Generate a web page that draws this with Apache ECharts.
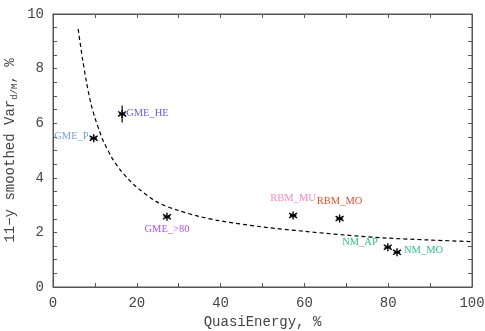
<!DOCTYPE html>
<html>
<head>
<meta charset="utf-8">
<script src="https://cdn.jsdelivr.net/npm/echarts@6/dist/echarts.min.js"></script>
<style>
  html, body { margin: 0; padding: 0; background: #fff; }
  #chart { width: 485px; height: 331px; }
</style>
</head>
<body>
<div id="chart"></div>
<script>
// points
const pointNames = ['GME_P', 'GME_HE', 'GME_>80', 'RBM_MU', 'RBM_MO', 'NM_AP', 'NM_MO'];
const pointX = [9.7, 16.5, 27.2, 57.3, 68.4, 79.9, 82.1];
const pointY = [5.45, 6.34, 2.57, 2.62, 2.51, 1.46, 1.27];
const pointErr = [0.12, 0.31, 0, 0, 0, 0, 0];

// dashed fit curve
const curveX = [6, 7, 8, 9, 10, 11, 12, 14, 16, 18, 20, 25, 30, 35, 40, 50, 60, 70, 80, 90, 100];
const curveY = [9.45, 8.4, 7.5, 6.75, 6.2, 5.75, 5.35, 4.75, 4.3, 3.95, 3.65, 3.1, 2.8, 2.58, 2.42, 2.2, 2.04, 1.9, 1.79, 1.72, 1.66];

const xTicks = [0, 20, 40, 60, 80, 100];
const yTicks = [0, 2, 4, 6, 8, 10];

// label colours and placement
const labelStyle = {
  'GME_P':   { color: '#6f9fd8', align: 'right',  dx: -5,  dy: -2 },
  'GME_HE':  { color: '#6a5ae6', align: 'left',   dx: 4,   dy: -1 },
  'GME_>80': { color: '#b050f0', align: 'center', dx: 0,   dy: 12 },
  'RBM_MU':  { color: '#ff86c8', align: 'center', dx: 0,   dy: -17 },
  'RBM_MO':  { color: '#f04a2a', align: 'center', dx: 0,   dy: -17 },
  'NM_AP':   { color: '#2cbf8c', align: 'right',  dx: -10, dy: -5 },
  'NM_MO':   { color: '#2cbf8c', align: 'left',   dx: 7,   dy: -2 }
};

const axisFont = 'Liberation Mono, DejaVu Sans Mono, monospace';
const labelFont = 'Liberation Serif, DejaVu Serif, serif';

const chart = echarts.init(document.getElementById('chart'));

const points = pointNames.map((n, i) => [pointX[i], pointY[i], pointErr[i], i]);

// ticks at minor spacing, labels only on the major values
function axisCommon(ticks) {
  return {
    min: 0,
    axisLine: { show: true, onZero: false, lineStyle: { color: '#555', width: 1 } },
    axisTick: { show: true, inside: true, length: 4, lineStyle: { color: '#555' } },
    splitLine: { show: false },
    axisLabel: {
      show: !!ticks, color: '#444', fontFamily: axisFont, fontSize: 14, margin: 9,
      formatter: v => (ticks && ticks.indexOf(v) >= 0) ? String(v) : ''
    }
  };
}

function renderPoint(params, api) {
  const x = api.value(0), y = api.value(1), err = api.value(2);
  const c = api.coord([x, y]);
  const r = 4;
  const st = { stroke: '#000', lineWidth: 1.4 };
  const children = [
    { type: 'line', shape: { x1: c[0], y1: c[1] - r, x2: c[0], y2: c[1] + r }, style: st },
    { type: 'line', shape: { x1: c[0] - r, y1: c[1] - r * 0.6, x2: c[0] + r, y2: c[1] + r * 0.6 }, style: st },
    { type: 'line', shape: { x1: c[0] - r, y1: c[1] + r * 0.6, x2: c[0] + r, y2: c[1] - r * 0.6 }, style: st },
    { type: 'line', shape: { x1: c[0] - r * 0.8, y1: c[1], x2: c[0] + r * 0.8, y2: c[1] }, style: st }
  ];
  if (err > 0) {
    const lo = api.coord([x, y - err]);
    const hi = api.coord([x, y + err]);
    children.push({ type: 'line', shape: { x1: lo[0], y1: lo[1], x2: hi[0], y2: hi[1] }, style: { stroke: '#000', lineWidth: 1.2 } });
  }
  const name = pointNames[api.value(3)];
  const ls = labelStyle[name];
  children.push({
    type: 'text',
    x: c[0] + ls.dx,
    y: c[1] + ls.dy,
    style: {
      text: name, fill: ls.color, font: '10.5px ' + labelFont,
      align: ls.align, verticalAlign: 'middle'
    }
  });
  return { type: 'group', children: children };
}

const option = {
  animation: false,
  backgroundColor: '#fff',
  grid: {
    left: 53, right: 13, top: 14, bottom: 44, outerBoundsMode: 'none',
    show: true, borderColor: '#555', borderWidth: 1
  },
  xAxis: [
    Object.assign(axisCommon(xTicks), {
      type: 'value', max: 100, interval: 10, position: 'bottom',
      name: 'QuasiEnergy, %', nameLocation: 'middle', nameGap: 27,
      nameTextStyle: { color: '#444', fontFamily: axisFont, fontSize: 14 }
    }),
    Object.assign(axisCommon(null), {
      type: 'value', max: 100, interval: 10, position: 'top'
    })
  ],
  yAxis: [
    Object.assign(axisCommon(yTicks), {
      type: 'value', max: 10, interval: 0.5, position: 'left',
      name: '{a|11\u2212y smoothed Var}{s|d/M}{a|, %}',
      nameLocation: 'middle', nameGap: 34, nameRotate: 90,
      nameMoveOverlap: false,
      nameTextStyle: {
        rich: {
          a: { color: '#444', fontFamily: axisFont, fontSize: 14 },
          s: { color: '#444', fontFamily: axisFont, fontSize: 9, padding: [8, 0, 0, 0] }
        }
      }
    }),
    Object.assign(axisCommon(null), {
      type: 'value', max: 10, interval: 0.5, position: 'right'
    })
  ],
  series: [
    {
      type: 'line',
      data: curveX.map((x, i) => [x, curveY[i]]),
      smooth: 0.3,
      showSymbol: false,
      lineStyle: { color: '#000', width: 1.2, type: [4, 3] },
      z: 2
    },
    {
      // drawn on the top/right axis pair, which share the same ranges
      type: 'custom',
      xAxisIndex: 1,
      yAxisIndex: 1,
      data: points,
      renderItem: renderPoint,
      z: 3
    }
  ]
};

chart.setOption(option);
</script>
</body>
</html>
